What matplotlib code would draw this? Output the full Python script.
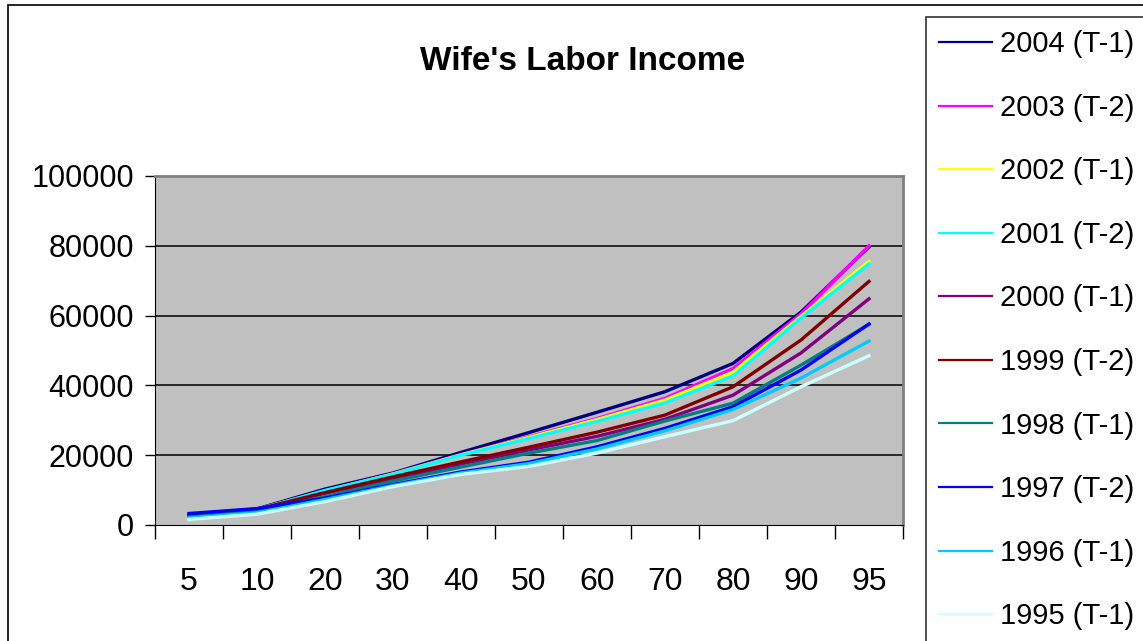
import matplotlib
matplotlib.use("Agg")
import matplotlib.pyplot as plt
from matplotlib.patches import Rectangle
import numpy as np

percentiles = ["5", "10", "20", "30", "40", "50", "60", "70", "80", "90", "95"]

y2004 = [3000, 4600, 10300, 14900, 20800, 26500, 32300, 38200, 46300, 61000, 79700]
y2003 = [2900, 4500, 9800, 14700, 20200, 25300, 30500, 36300, 44800, 60500, 80000]
y2002 = [2800, 4400, 9700, 14600, 20100, 25100, 30200, 35800, 43800, 59800, 75500]
y2001 = [2700, 4400, 9900, 14500, 20000, 24800, 29700, 35000, 42700, 59300, 74800]
y2000 = [2700, 4300, 9100, 13300, 17500, 21500, 25400, 30300, 37200, 49300, 64800]
y1999 = [2800, 4500, 9300, 13800, 18100, 22300, 26600, 31500, 39600, 53000, 69800]
y1998 = [2300, 3900, 8100, 12600, 16600, 20600, 24200, 29800, 34900, 45800, 57500]
y1997 = [3300, 4700, 7700, 11600, 15200, 18000, 22400, 27700, 33900, 44400, 57600]
y1996 = [2000, 3500, 7300, 11300, 14900, 17600, 21800, 27000, 33100, 42100, 52700]
y1995 = [1600, 3100, 6700, 11000, 14500, 16800, 20600, 25300, 29900, 39600, 48500]

labels = ["2004 (T-1)", "2003 (T-2)", "2002 (T-1)", "2001 (T-2)", "2000 (T-1)",
          "1999 (T-2)", "1998 (T-1)", "1997 (T-2)", "1996 (T-1)", "1995 (T-1)"]
series = [y2004, y2003, y2002, y2001, y2000, y1999, y1998, y1997, y1996, y1995]
colors = ["#000080", "#FF00FF", "#FFFF00", "#00FFFF", "#800080",
          "#800000", "#008080", "#0000FF", "#00CCFF", "#CCFFFF"]

plt.rcParams["font.family"] = ["Liberation Sans", "DejaVu Sans"]

fig = plt.figure(figsize=(11.43, 6.41), dpi=100)
fig.patch.set_facecolor("white")

# outer chart border
fig.patches.append(Rectangle((8/1143, -0.1), 1.2, 1.1 - 5/641, transform=fig.transFigure,
                             fill=False, edgecolor="black", linewidth=1.2))

ax = fig.add_axes([155/1143, 1 - 525/641, (903-155)/1143, (525-176)/641])
ax.set_facecolor("#C0C0C0")

x = np.arange(len(percentiles))
for vals, lab, c in zip(series, labels, colors):
    ax.plot(x, vals, color=c, linewidth=2.4, label=lab)

ax.set_xlim(-0.5, len(percentiles) - 0.5)
ax.set_ylim(0, 100000)

for g in [20000, 40000, 60000, 80000]:
    ax.axhline(g, color="black", linewidth=1.1, zorder=0.5)

ax.set_yticks([0, 20000, 40000, 60000, 80000, 100000])
ax.set_yticklabels(["0", "20000", "40000", "60000", "80000", "100000"], fontsize=22)
ax.tick_params(axis="y", direction="out", length=7, width=1, pad=8)

ax.set_xticks(np.arange(-0.5, len(percentiles), 1))
ax.set_xticklabels([])
ax.tick_params(axis="x", which="major", direction="out", length=10, width=1)
ax.set_xticks(x, minor=True)
ax.set_xticklabels(percentiles, minor=True, fontsize=23)
ax.tick_params(axis="x", which="minor", length=0, pad=30)

ax.spines["left"].set_color("black")
ax.spines["bottom"].set_color("black")
ax.spines["top"].set_color("#808080")
ax.spines["right"].set_color("#808080")
ax.spines["top"].set_linewidth(2)
ax.spines["right"].set_linewidth(2)

fig.text(583/1143, 1 - 62/641, "Wife's Labor Income", ha="center", va="center",
         fontsize=24, fontweight="bold")

leg = ax.legend(loc="upper left", bbox_to_anchor=(926/1143, 1 - 17/641),
                bbox_transform=fig.transFigure, frameon=True,
                fancybox=False, borderaxespad=0, borderpad=0.45, labelspacing=1.22,
                handlelength=1.8, handletextpad=0.3, prop={"size": 21})
leg.get_frame().set_edgecolor("black")
leg.get_frame().set_linewidth(1.2)
for line in leg.get_lines():
    line.set_linewidth(1.6)

fig.savefig("out.png", dpi=100)
